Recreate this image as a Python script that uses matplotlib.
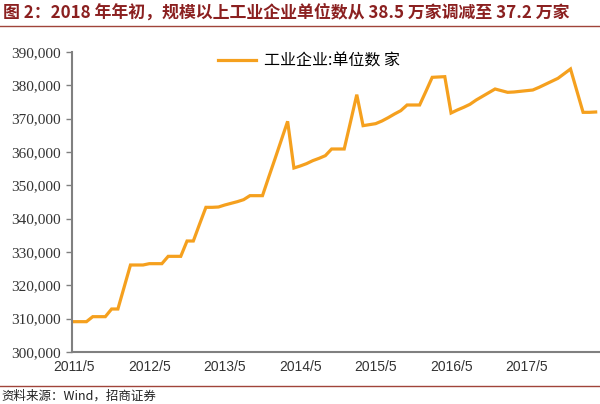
import pandas as pd
import numpy as np
import matplotlib
matplotlib.use("Agg")
import matplotlib.pyplot as plt
from matplotlib.lines import Line2D

plt.rcParams['font.family'] = ['Noto Sans CJK SC', 'DejaVu Sans']

# ---- data: monthly count of industrial enterprises above designated size ----
months = pd.period_range("2011-05", "2018-04", freq="M")
count = [
    309100, 309100, 309100, 310600, 310600, 310600, 312900, 312900, 319500, 326100,
    326100, 326100, 326500, 326500, 326500, 328700, 328700, 328700, 333300, 333300,
    338400, 343400, 343400, 343500, 344100, 344600, 345100, 345700, 346900, 346900,
    346900, 352500, 358000, 363600, 369200, 355200, 355800, 356500, 357400, 358100,
    358900, 360900, 360900, 360900, 369000, 377200, 367900, 368200, 368500, 369300,
    370300, 371400, 372400, 374100, 374100, 374100, 378200, 382400, 382500, 382600,
    371700, 372600, 373400, 374300, 375600, 376700, 377800, 378900, 378400, 377900,
    378000, 378200, 378400, 378600, 379400, 380300, 381200, 382100, 383500, 384900,
    378400, 371900, 371900, 372000,
]
y_ticks = list(range(300000, 390001, 10000))

title = "图 2：2018 年年初，规模以上工业企业单位数从 38.5 万家调减至 37.2 万家"
series_name = "工业企业:单位数 家"
source = "资料来源：Wind，招商证券"

x = np.arange(len(count))
tick_pos = x[::12]
tick_lab = [f"{p.year}/{p.month}" for p in months[::12]]

fig = plt.figure(figsize=(6.0, 4.04), dpi=100)
ax = fig.add_axes([0.12, 0.1287, 0.878, 0.7426])

ax.plot(x, count, color="#F5A01E", lw=2.3, solid_joinstyle="miter", label=series_name)

ax.set_xlim(-0.3, len(count) - 0.5)
ax.set_ylim(300000, 390000)
ax.set_yticks(y_ticks)
ax.set_yticklabels([f"{v:,}" for v in y_ticks], family="Liberation Serif", fontsize=11, color="#333333")
ax.set_xticks(tick_pos)
ax.set_xticklabels(tick_lab, family="Liberation Sans", fontsize=10, color="#333333")
ax.tick_params(axis="x", length=0, pad=6)
ax.tick_params(axis="y", length=4, width=1, color="#808080", pad=4)

for s in ["top", "right"]:
    ax.spines[s].set_visible(False)
for s in ["left", "bottom"]:
    ax.spines[s].set_color("#808080")
    ax.spines[s].set_linewidth(1.5)

leg = ax.legend(loc="upper center", bbox_to_anchor=(0.45, 1.045), frameon=False,
                fontsize=11.5, handlelength=2.4, handletextpad=0.5)

# title and rules
fig.text(0.005, 0.968, title, fontsize=12.2, fontweight="bold", color="#8B2020", va="center", ha="left")
fig.add_artist(Line2D([0, 1], [0.936, 0.936], color="#A0443A", lw=1.0))
fig.add_artist(Line2D([0, 1], [0.045, 0.045], color="#A0443A", lw=1.0))
fig.text(0.003, 0.02, source, fontsize=9, color="#222222", va="center", ha="left")

fig.savefig("out.png", dpi=100)
